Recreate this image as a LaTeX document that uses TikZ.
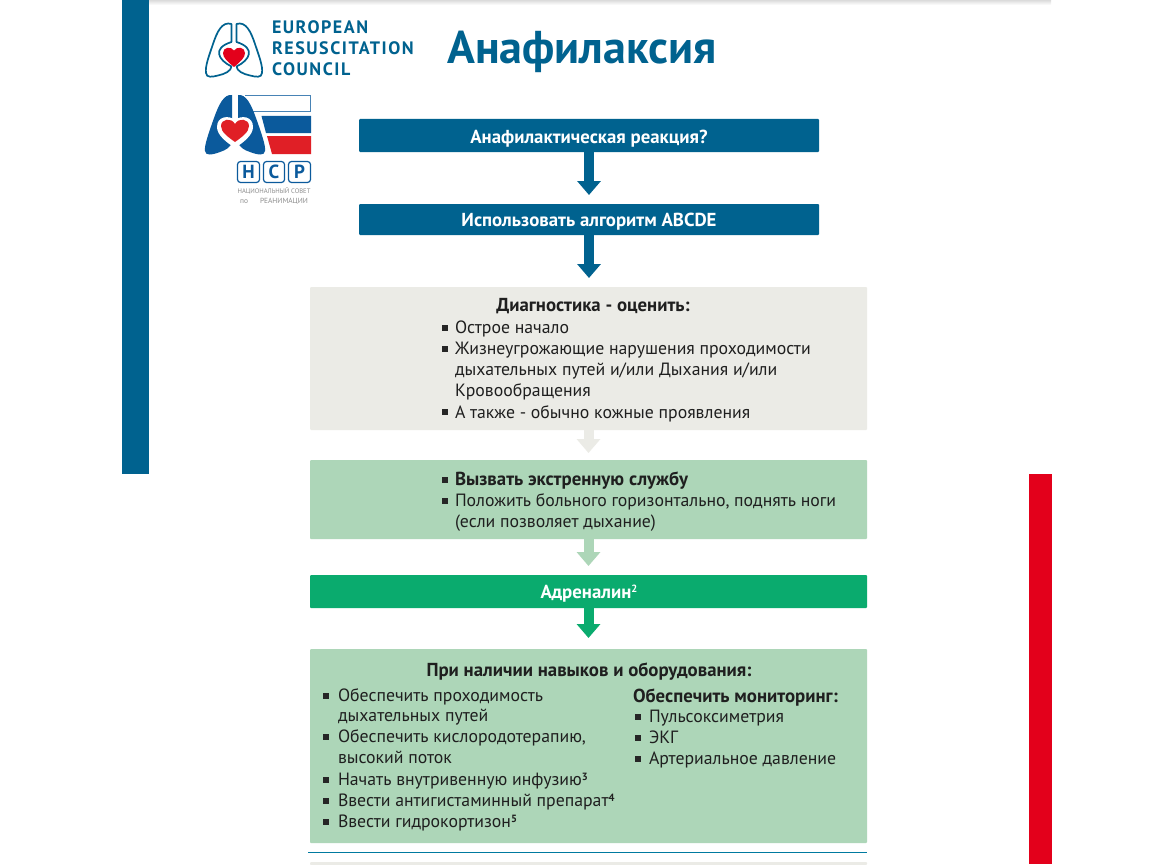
\documentclass[tikz,border=0pt]{standalone}
\usepackage{fontspec}
\setmainfont{PT Sans}
\newfontfamily\ercfont[LetterSpace=8.5]{PT Sans}
\usetikzlibrary{arrows.meta,positioning}
\definecolor{ercblue}{HTML}{00628F}
\definecolor{ercred}{HTML}{E3001B}
\definecolor{greybox}{HTML}{EBEBE6}
\definecolor{greenbox}{HTML}{ADD6B8}
\definecolor{greenbar}{HTML}{0AAB6E}
\definecolor{nsrblue}{HTML}{0B5A9C}
\definecolor{nsrred}{HTML}{E01F26}
\newcommand{\supr}[1]{\raisebox{5.5pt}{\fontsize{10.5}{11}\selectfont\bfseries #1}}
\tikzset{
  x=1pt,y=-1pt,
  boxbase/.style={anchor=north west,inner sep=0pt,outer sep=0pt,rounded corners=1pt},
  txt/.style={anchor=base west,inner sep=0pt,outer sep=0pt,font=\fontsize{17.75}{20}\selectfont,text=black!88},
  btxt/.style={txt,font=\fontsize{18.8}{20}\selectfont\bfseries},
  ctr/.style={anchor=base,inner sep=0pt,outer sep=0pt,font=\fontsize{18.8}{20}\selectfont\bfseries},
  bulletmark/.style={anchor=center,fill=black!85,inner sep=0pt,outer sep=0pt,minimum width=6pt,minimum height=6pt},
  flow/.style={line width=10pt,-{Triangle[width=23pt,length=14pt]}},
  erc/.style={anchor=base west,inner sep=0pt,outer sep=0pt,text=ercblue,font=\ercfont\fontsize{18}{20}\selectfont\bfseries},
  hcpbox/.style={anchor=north west,draw=nsrblue,line width=1.2pt,rounded corners=3pt,inner sep=0pt,outer sep=0pt,text=nsrblue,font=\fontsize{19}{20}\selectfont\bfseries},
  smalltxt/.style={anchor=base,inner sep=0pt,outer sep=0pt,text=black!45,font=\fontsize{6.6}{7}\selectfont}
}
\begin{document}
\begin{tikzpicture}
\useasboundingbox (0,0) rectangle (1150,864);
\fill[white] (0,0) rectangle (1150,864);
% page bands
\shade[top color=black!14,bottom color=white] (122,0) rectangle (1051,5);
\fill[ercblue] (122,0) rectangle (149,474);
\fill[ercred] (1029,474) rectangle (1052,864);
% ERC logo
\draw[ercblue,line width=1.7pt,line join=round]
  (231.5,24) .. controls (222,21) and (217,32) .. (213,44) .. controls (209,56) and (205,66) .. (206,73)
  .. controls (206.5,78) and (212,77) .. (218,75.5) .. controls (225,74) and (231,71) .. (231.5,66.5)
  .. controls (218,60) and (212,48) .. (231.5,42) -- cycle;
\draw[ercblue,line width=1.7pt,line join=round]
  (236.5,24) .. controls (246,21) and (251,32) .. (255,44) .. controls (259,56) and (263,66) .. (262,73)
  .. controls (261.5,78) and (256,77) .. (250,75.5) .. controls (243,74) and (237,71) .. (236.5,66.5)
  .. controls (250,60) and (256,48) .. (236.5,42) -- cycle;
\fill[ercred] (234,67) .. controls (228,62) and (223,58) .. (223,53) .. controls (223,47) and (231,46) .. (234,50.5)
  .. controls (237,46) and (245,47) .. (245,53) .. controls (245,58) and (240,62) .. (234,67) -- cycle;
\node[erc] (ercA) at (272,34) {EUROPEAN};
\node[erc] (ercB) at (272,55) {RESUSCITATION};
\node[erc] (ercC) at (272,76) {COUNCIL};
\node[anchor=base west,inner sep=0pt,text=ercblue,font=\fontsize{46}{48}\selectfont\bfseries] (title) at (447,64) {Анафилаксия};
% NSR logo
\draw[nsrblue!75,line width=1pt] (245,95.5) -- (310.5,95.5) -- (310.5,112) -- (250,112);
\fill[nsrblue] (261.5,116) -- (311,116) -- (311,133) -- (266,133) -- cycle;
\fill[nsrred] (267,136) -- (311,136) -- (311,154) -- (272,154) -- cycle;
\fill[nsrblue] (232,95) .. controls (224,94) and (219,104) .. (214,118) .. controls (209,132) and (204,146) .. (205,151)
  .. controls (205.5,156) and (212,155) .. (220,152) .. controls (226,150) and (231,147) .. (232,142) -- cycle;
\fill[nsrblue] (238,95) .. controls (246,94) and (251,104) .. (256,118) .. controls (261,132) and (266,146) .. (265,151)
  .. controls (264.5,156) and (258,155) .. (250,152) .. controls (244,150) and (239,147) .. (238,142) -- cycle;
\fill[white] (235,148) .. controls (226,142) and (217,135) .. (217,127) .. controls (217,116) and (229,115) .. (235,120)
  .. controls (241,115) and (253,116) .. (253,127) .. controls (253,135) and (244,142) .. (235,148) -- cycle;
\fill[nsrred] (235,142) .. controls (228,137) and (221,132) .. (221,126) .. controls (221,119) and (231,117) .. (235,124)
  .. controls (239,117) and (249,119) .. (249,126) .. controls (249,132) and (242,137) .. (235,142) -- cycle;
\node[hcpbox,minimum width=22pt,minimum height=21pt] (hcpH) at (237.5,161.5) {Н};
\node[hcpbox,minimum width=21pt,minimum height=21pt] (hcpC) at (263.5,161.5) {С};
\node[hcpbox,minimum width=22pt,minimum height=21pt] (hcpP) at (288.5,161.5) {Р};
\node[smalltxt] (nsrA) at (274,193.5) {НАЦИОНАЛЬНЫЙ СОВЕТ};
\node[smalltxt,font=\fontsize{7.4}{8}\selectfont] (nsrB) at (274,203) {по\hspace{12pt}РЕАНИМАЦИИ};
% boxes
\node[boxbase,fill=ercblue,minimum width=460pt,minimum height=33pt] (q) at (359,119) {};
\node[boxbase,fill=ercblue,minimum width=460pt,minimum height=31pt] (abcde) at (359,204) {};
\node[boxbase,fill=greybox,minimum width=557pt,minimum height=143pt] (diag) at (310,287) {};
\node[boxbase,fill=greenbox,minimum width=557pt,minimum height=79pt] (call) at (310,460) {};
\node[boxbase,fill=greenbar,minimum width=557pt,minimum height=33pt] (adr) at (310,575) {};
\node[boxbase,fill=greenbox,minimum width=557pt,minimum height=194pt] (skills) at (310,649) {};
\node[boxbase,fill=greybox,minimum width=557pt,minimum height=3pt] (nextbox) at (310,862) {};
\coordinate (ruleL) at (308,852.5);
\coordinate (ruleR) at (867,852.5);
\draw[ercblue!85!cyan,line width=1.6pt] (ruleL) -- (ruleR);
% connectors
\draw[flow,ercblue,shorten >=9pt] (q.south) -- (abcde.north);
\coordinate (abcdeEnd) at (589,278);
\draw[flow,ercblue] (abcde.south) -- (abcdeEnd);
\draw[flow,greybox,shorten >=7pt] (diag.south) -- (call.north);
\draw[flow,greenbox,shorten >=9pt] (call.south) -- (adr.north);
\draw[flow,greenbar,shorten >=11pt] (adr.south) -- (skills.north);
% box labels
\node[ctr,text=white] (qt) at (589,143.5) {Анафилактическая реакция?};
\node[ctr,text=white] (abt) at (589,226) {Использовать алгоритм ABCDE};
\node[ctr,text=black!88] (dt) at (593,311.5) {Диагностика - оценить:};
\foreach \n/\y in {a/328,b/349,c/412} {\node[bulletmark] (db\n) at (444.5,\y) {};}
\node[txt] (d1) at (455,333.5) {Острое начало};
\node[txt] (d2) at (455,354) {Жизнеугрожающие нарушения проходимости};
\node[txt] (d3) at (455,375.5) {дыхательных путей и/или Дыхания и/или};
\node[txt] (d4) at (455,396.5) {Кровообращения};
\node[txt] (d5) at (455,418) {А также - обычно кожные проявления};
\node[bulletmark] (cba) at (444.5,480) {};
\node[bulletmark] (cbb) at (444.5,501) {};
\node[btxt] (c1) at (455,485) {Вызвать экстренную службу};
\node[txt] (c2) at (455,506) {Положить больного горизонтально, поднять ноги};
\node[txt] (c3) at (455,527) {(если позволяет дыхание)};
\node[ctr,text=white] (at) at (589,598) {Адреналин\supr{2}};
\node[ctr,text=black!88] (st) at (589,676) {При наличии навыков и оборудования:};
\foreach \n/\y in {a/696,b/737,c/780,d/801,e/822} {\node[bulletmark] (sb\n) at (325.5,\y) {};}
\node[txt] (s1) at (338,701.5) {Обеспечить проходимость};
\node[txt] (s2) at (338,721.5) {дыхательных путей};
\node[txt] (s3) at (338,742.5) {Обеспечить кислородотерапию,};
\node[txt] (s4) at (338,763.5) {высокий поток};
\node[txt] (s5) at (338,785.5) {Начать внутривенную инфузию\supr{3}};
\node[txt] (s6) at (338,806.5) {Ввести антигистаминный препарат\supr{4}};
\node[txt] (s7) at (338,827.5) {Ввести гидрокортизон\supr{5}};
\node[btxt] (m0) at (633,702) {Обеспечить мониторинг:};
\foreach \n/\y in {a/717,b/738,c/759} {\node[bulletmark] (mb\n) at (637.5,\y) {};}
\node[txt] (m1) at (649,722.5) {Пульсоксиметрия};
\node[txt] (m2) at (649,743.5) {ЭКГ};
\node[txt] (m3) at (649,764.5) {Артериальное давление};
\end{tikzpicture}
\end{document}
